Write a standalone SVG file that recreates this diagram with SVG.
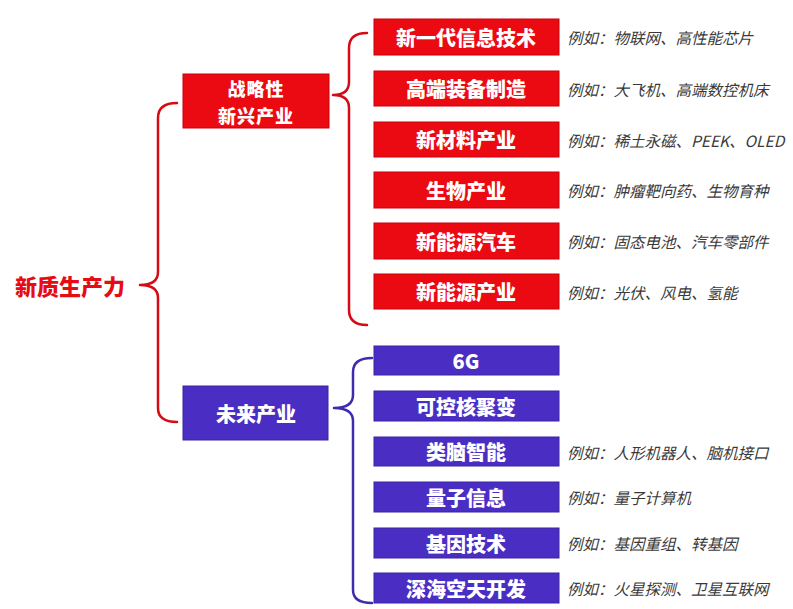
<svg xmlns="http://www.w3.org/2000/svg" width="793" height="609" viewBox="0 0 793 609">
<style>
.red{fill:#ec0a12;stroke:#c8000a;stroke-width:1}
.pur{fill:#4a2ec4;stroke:#3a22a0;stroke-width:1}
.bt{font-family:"Noto Sans CJK SC","Noto Sans",sans-serif;font-weight:900;font-size:20px;fill:#fff;text-anchor:middle;dominant-baseline:central}
.mt{font-size:18px;letter-spacing:1px}
.ex{font-family:"Noto Sans CJK SC","Noto Sans",sans-serif;font-style:italic;font-size:15.5px;fill:#3a3a3a;dominant-baseline:central}
.root{font-family:"Noto Sans CJK SC","Noto Sans",sans-serif;font-weight:900;font-size:22px;fill:#e60c14;dominant-baseline:central}
.br{fill:none;stroke-width:2.5;stroke-linecap:round;stroke-linejoin:round}
</style>
<rect width="793" height="609" fill="#fff"/>
<g id="connectors">
<path class="br" stroke="#d40a14" d="M177,103 Q158,103 158,118 L158,272 Q158,285 140,285 Q158,285 158,298 L158,408 Q158,422 177,422"/>
<path class="br" stroke="#d40a14" d="M367,33 Q349,33 349,48 L349,82 Q349,95 333,95 Q349,95 349,108 L349,310 Q349,325 367,325"/>
<path class="br" stroke="#3e2cb0" d="M372,358 Q353,358 353,372 L353,395 Q353,408 334,408 Q353,408 353,421 L353,590 Q353,603 372,603"/>
</g>
<g id="root"><text class="root" x="15" y="285">新质生产力</text></g>
<g id="n-zl"><rect class="red" x="183" y="74" width="146" height="54"/><text class="bt mt" x="256" y="88">战略性</text><text class="bt mt" x="256" y="114.5">新兴产业</text></g>
<g id="n-wl"><rect class="pur" x="183" y="386" width="145" height="54"/><text class="bt" x="256" y="413">未来产业</text></g>
<g id="r1"><rect class="red" x="374" y="19" width="185" height="36"/><text class="bt" x="466" y="37">新一代信息技术</text><text class="ex" x="567" y="37">例如：物联网、高性能芯片</text></g>
<g id="r2"><rect class="red" x="374" y="71" width="185" height="35"/><text class="bt" x="466" y="88.5">高端装备制造</text><text class="ex" x="567" y="88.5">例如：大飞机、高端数控机床</text></g>
<g id="r3"><rect class="red" x="374" y="122" width="185" height="35"/><text class="bt" x="466" y="139.5">新材料产业</text><text class="ex" x="567" y="139.5">例如：稀土永磁、PEEK、OLED</text></g>
<g id="r4"><rect class="red" x="374" y="172" width="185" height="36"/><text class="bt" x="466" y="190">生物产业</text><text class="ex" x="567" y="190">例如：肿瘤靶向药、生物育种</text></g>
<g id="r5"><rect class="red" x="374" y="223" width="185" height="36"/><text class="bt" x="466" y="241">新能源汽车</text><text class="ex" x="567" y="241">例如：固态电池、汽车零部件</text></g>
<g id="r6"><rect class="red" x="374" y="274" width="185" height="35"/><text class="bt" x="466" y="291.5">新能源产业</text><text class="ex" x="567" y="291.5">例如：光伏、风电、氢能</text></g>
<g id="p1"><rect class="pur" x="374" y="346" width="185" height="29"/><text class="bt" x="466" y="360.5">6G</text></g>
<g id="p2"><rect class="pur" x="374" y="391" width="185" height="30"/><text class="bt" x="466" y="406">可控核聚变</text></g>
<g id="p3"><rect class="pur" x="374" y="437" width="185" height="29"/><text class="bt" x="466" y="451.5">类脑智能</text><text class="ex" x="567" y="451.5">例如：人形机器人、脑机接口</text></g>
<g id="p4"><rect class="pur" x="374" y="482" width="185" height="30"/><text class="bt" x="466" y="497">量子信息</text><text class="ex" x="567" y="497">例如：量子计算机</text></g>
<g id="p5"><rect class="pur" x="374" y="528" width="185" height="30"/><text class="bt" x="466" y="543">基因技术</text><text class="ex" x="567" y="543">例如：基因重组、转基因</text></g>
<g id="p6"><rect class="pur" x="374" y="573" width="185" height="30"/><text class="bt" x="466" y="588">深海空天开发</text><text class="ex" x="567" y="588">例如：火星探测、卫星互联网</text></g>
</svg>
